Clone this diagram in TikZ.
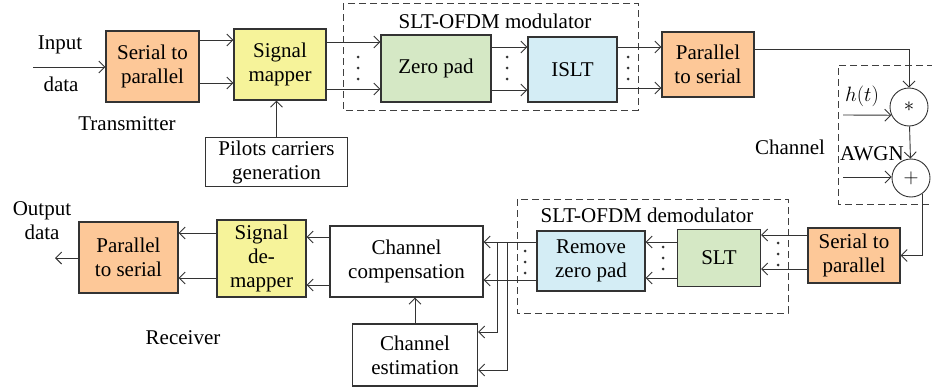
\documentclass[tikz,border=0pt]{standalone}
\usepackage{fontspec}
\setmainfont{Liberation Serif}
\usepackage{tikz}
\usepackage{xcolor}
\usetikzlibrary{calc}
\usetikzlibrary{arrows.meta}

\definecolor{blkorange}{HTML}{FDC898}
\definecolor{blkyellow}{HTML}{F6F39A}
\definecolor{blkgreen}{HTML}{D5E8C5}
\definecolor{blkblue}{HTML}{D4EDF5}
\definecolor{lncol}{HTML}{333333}

\begin{document}
\begin{tikzpicture} [->,>={Straight Barb[length=6pt,width=12pt]},x=1pt,y=-1pt,line width=0.9pt,draw=lncol,
    font=\fontsize{21}{24}\selectfont]
  \tikzstyle{blk}=[draw=lncol,line width=1.1pt,align=center,inner sep=0pt]
  \tikzstyle{sum}=[circle,draw=lncol,line width=0.9pt,minimum size=38pt,inner sep=0pt]
  \tikzstyle{grp}=[-,draw=black!75,line width=0.9pt,dash pattern=on 7pt off 4pt]

  \useasboundingbox (0,0) rectangle (932,391);

  % transmitter
  \node[blk,fill=blkorange,minimum width=93pt,minimum height=71pt] (SP1) at (152.5,66.5) {Serial to\\parallel};
  \node[blk,fill=blkyellow,minimum width=92pt,minimum height=71pt] (MAP) at (280,64.5) {Signal\\mapper};
  \node[blk,fill=white,minimum width=142pt,minimum height=49pt] (PIL) at (276.5,162) {Pilots carriers\\generation};
  \node[blk,fill=blkgreen,minimum width=110pt,minimum height=67pt] (ZP) at (436,68.5) {Zero pad};
  \node[blk,fill=blkblue,minimum width=89pt,minimum height=65pt] (ISLT) at (572.5,69.5) {ISLT};
  \node[blk,fill=blkorange,minimum width=92pt,minimum height=65pt] (PS1) at (708,64.5) {Parallel\\to serial};

  % channel
  \node[sum] (MUL) at (909,107) {$*$};
  \node[sum] (ADD) at (911,178) {$+$};

  % receiver
  \node[blk,fill=blkorange,minimum width=92pt,minimum height=55pt] (SP2) at (854,255.5) {Serial to\\parallel};
  \node[blk,fill=blkgreen,minimum width=83pt,minimum height=57pt] (SLT) at (719,258) {SLT};
  \node[blk,fill=blkblue,minimum width=108pt,minimum height=60pt] (RZP) at (591,261) {Remove\\zero pad};
  \node[blk,fill=white,minimum width=153pt,minimum height=71pt] (CC) at (406.5,261.5) {Channel\\compensation};
  \node[blk,fill=white,minimum width=125pt,minimum height=62pt] (CE) at (415,355) {Channel\\estimation};
  \node[blk,fill=blkyellow,minimum width=89pt,minimum height=77pt] (DMAP) at (261.5,258.5) {Signal\\de-\\mapper};
  \node[blk,fill=blkorange,minimum width=99pt,minimum height=71pt] (PS2) at (128.5,257.5) {Parallel\\to serial};

  % labels
  \node (INP) at (60,45) {Input};
  \node (IND) at (61,84) {data};
  \node (TX) at (127,124) {Transmitter};
  \node (MODL) at (495,21) {SLT-OFDM modulator};
  \node (HT) at (862,96) {$h(t)$};
  \node (CHL) at (790,147) {Channel};
  \node (AWGN) at (872,154) {AWGN};
  \node (DEML) at (647,215) {SLT-OFDM demodulator};
  \node[align=center] (OUTL) at (42,221) {Output\\data};
  \node (RX) at (183,338) {Receiver};

  % dashed groups
  \draw[grp] (343,3) rectangle (638,110);
  \draw[grp] (945,65) -| (838,204) -- (945,204);
  \draw[grp] (517,199) rectangle (788,313);

  % free ends
  \coordinate (IN) at (33,67);
  \coordinate (OUT) at (55,258);
  \coordinate (H) at (843,115);
  \coordinate (N) at (843,177);
  \coordinate (B1) at (497,242);
  \coordinate (B2) at (507,242);

  % connectors
  \draw (IN) -- (SP1.west |- IN);
  \foreach \y in {40,83} \draw (SP1.east |- 0,\y) -- (MAP.west |- 0,\y);
  \draw (PIL.north) -- (PIL.north |- MAP.south);
  \foreach \y in {42,89} \draw (MAP.east |- 0,\y) -- (ZP.west |- 0,\y);
  \foreach \y in {47,90} \draw (ZP.east |- 0,\y) -- (ISLT.west |- 0,\y);
  \foreach \y in {47,88} \draw (ISLT.east |- 0,\y) -- (PS1.west |- 0,\y);
  \draw (PS1.east |- 0,49) -| (MUL.north);
  \draw (H) -- (MUL.205);
  \draw (MUL) -- (ADD);
  \draw (N) -- (ADD.west |- N);
  \draw (ADD.-54) |- (SP2.east);
  \foreach \y in {235,269} \draw (SP2.west |- 0,\y) -- (SLT.east |- 0,\y);
  \foreach \y in {242,278} \draw (SLT.west |- 0,\y) -- (RZP.east |- 0,\y);
  \foreach \y in {242,280} \draw (RZP.west |- 0,\y) -- (CC.east |- 0,\y);
  \draw (B1) |- (CE.east |- 0,332);
  \draw (B2) |- (CE.east |- 0,370);
  \draw (CE.north) -- (CE.north |- CC.south);
  \foreach \y in {237,285} \draw (CC.west |- 0,\y) -- (DMAP.east |- 0,\y);
  \foreach \y in {233,278} \draw (DMAP.west |- 0,\y) -- (PS2.east |- 0,\y);
  \draw (PS2.west |- OUT) -- (OUT);

  % parallel dots
  \foreach \x/\y in {358/68,507/68,628/68,778/254,663/258,525/262}
    \foreach \d in {-11,0,11} \fill[-,lncol] (\x,\y+\d) circle (1.5pt);

\end{tikzpicture}
\end{document}
